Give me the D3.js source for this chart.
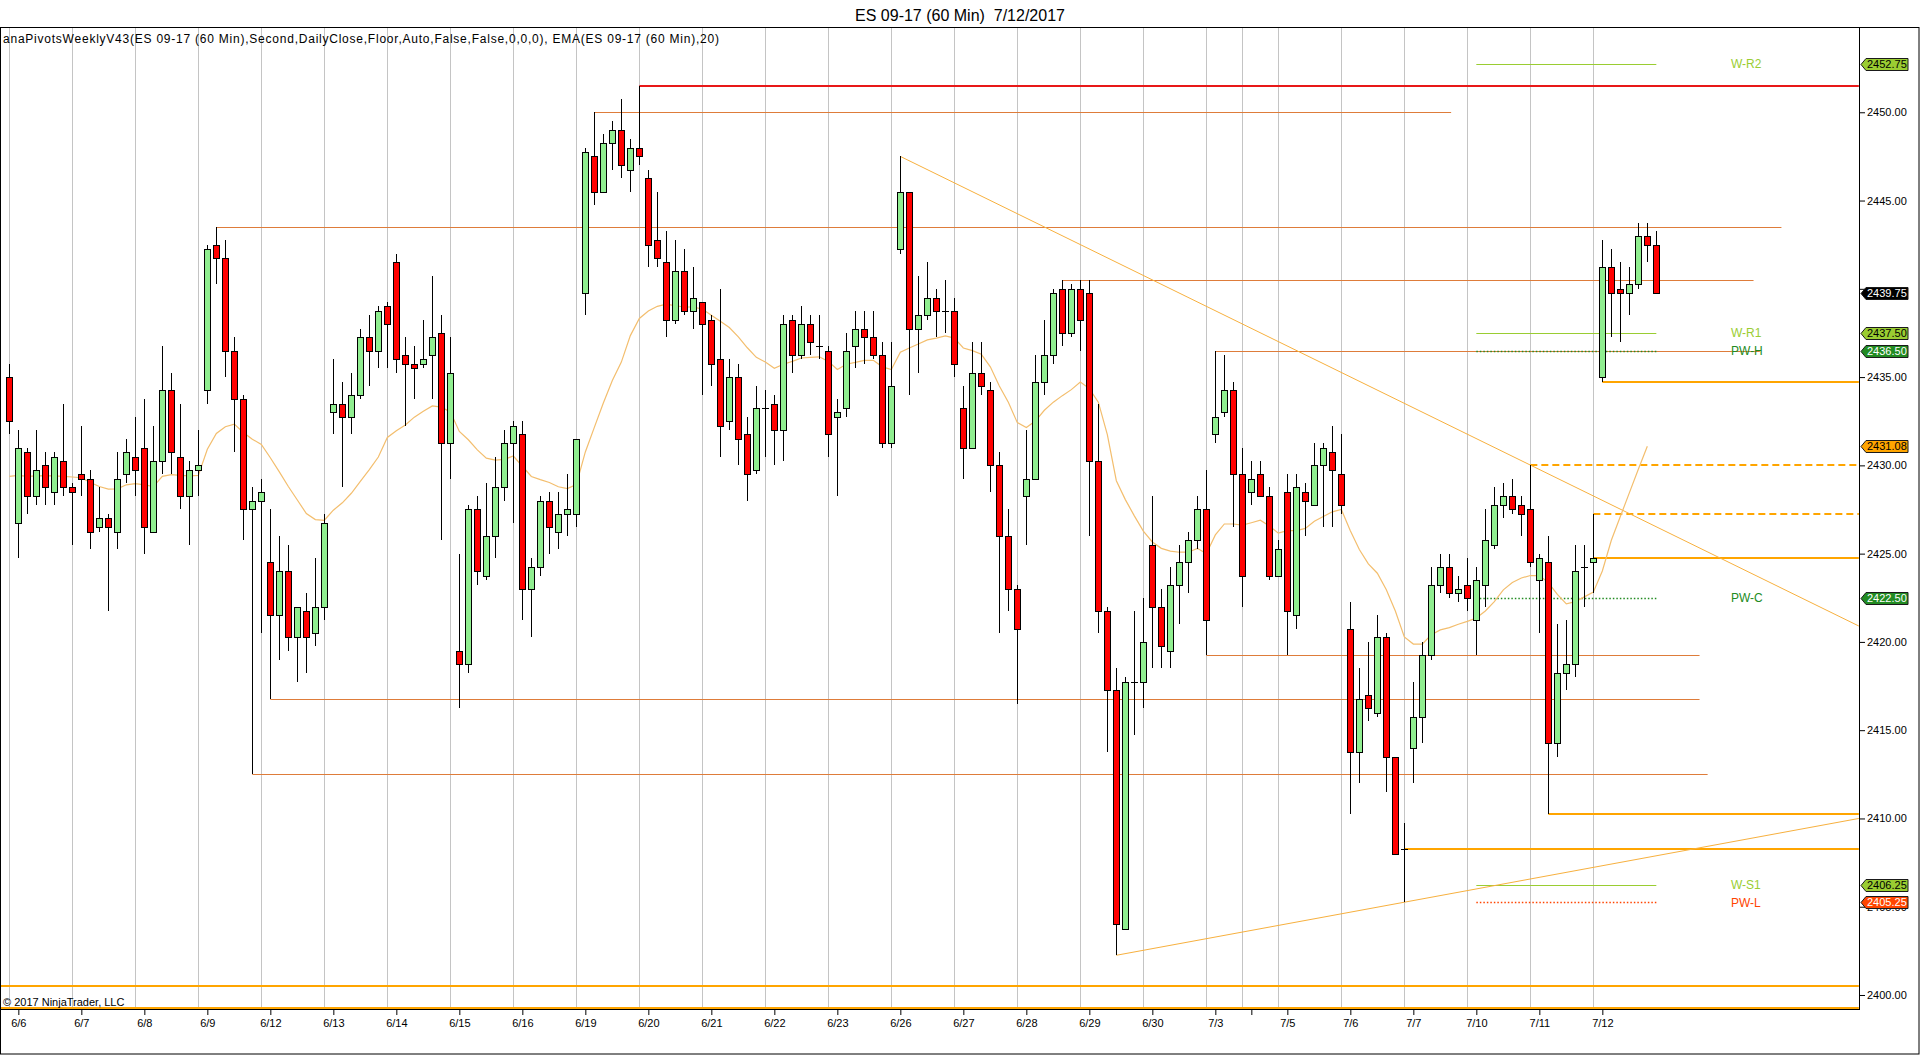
<!DOCTYPE html>
<html><head><meta charset="utf-8">
<script src="https://cdn.jsdelivr.net/npm/d3@7"></script>
<style>
html,body{margin:0;padding:0;background:#fff;overflow:hidden}
svg{display:block}
text{font-family:"Liberation Sans",Arial,sans-serif}
</style>
</head><body>
<svg id="chart" width="1920" height="1055"></svg>
<script>
// ---------------- DATA ----------------
const chartTitle = "ES 09-17 (60 Min)\u00A0 7/12/2017";
const indicatorText = "anaPivotsWeeklyV43(ES 09-17 (60 Min),Second,DailyClose,Floor,Auto,False,False,0,0,0), EMA(ES 09-17 (60 Min),20)";
const copyrightText = "\u00A9 2017 NinjaTrader, LLC";

const dayLabels   = ["6/6","6/7","6/8","6/9","6/12","6/13","6/14","6/15","6/16","6/19","6/20","6/21","6/22","6/23","6/26","6/27","6/28","6/29","6/30","7/3","","7/5","7/6","7/7","7/10","7/11","7/12"];
const dayFirstBar = [1,8,15,22,29,36,43,50,57,64,71,78,85,92,99,106,113,120,127,134,138,142,149,156,163,170,177];

const priceTicks = [2400,2405,2410,2415,2420,2425,2430,2435,2440,2445,2450];
const hiddenTickLabels = [2440]; // covered by the last-price marker in the original

const opens = [2435.0,2426.75,2430.75,2428.25,2430.0,2428.5,2430.25,2428.75,2429.5,2429.25,2426.5,2427.0,2426.25,2429.5,2430.5,2431.0,2426.25,2430.25,2434.25,2430.5,2428.25,2429.75,2434.25,2442.5,2441.75,2436.5,2433.75,2427.5,2428.0,2424.5,2421.5,2424.0,2420.25,2421.75,2420.5,2422.0,2433.0,2433.5,2432.75,2434.0,2437.25,2436.5,2439.0,2441.5,2436.25,2435.75,2435.75,2436.25,2437.5,2431.25,2419.5,2418.75,2427.5,2423.75,2426.0,2428.75,2431.25,2431.75,2423.0,2424.25,2428.0,2426.25,2427.25,2427.25,2439.75,2447.5,2445.5,2448.25,2449.0,2446.75,2448.0,2446.25,2442.75,2441.5,2438.25,2441.0,2438.75,2439.25,2438.25,2436.0,2432.5,2435.0,2431.75,2429.75,2433.25,2433.5,2432.0,2438.25,2436.25,2438.0,2436.75,2436.5,2432.75,2433.25,2436.75,2437.75,2437.25,2436.25,2431.25,2442.25,2445.5,2437.75,2438.5,2439.5,2438.75,2438.75,2433.25,2431.0,2435.25,2434.25,2430.0,2426.0,2423.0,2428.25,2429.25,2434.75,2436.25,2440.0,2437.5,2440.0,2439.75,2430.25,2421.75,2417.25,2403.75,2417.75,2417.75,2425.5,2422.0,2419.5,2423.25,2424.5,2425.75,2427.5,2431.75,2433.0,2434.25,2429.5,2428.5,2429.5,2428.25,2423.75,2428.5,2421.5,2428.5,2427.75,2430.0,2430.75,2429.5,2420.75,2413.75,2417.0,2416.0,2420.25,2413.5,2408.25,2414.0,2415.75,2419.25,2423.25,2424.25,2422.75,2423.25,2421.25,2423.25,2425.5,2427.75,2428.25,2427.75,2427.5,2423.5,2424.5,2414.25,2418.25,2418.75,2424.25,2424.5,2435.0,2441.25,2440.0,2439.75,2440.25,2443.0,2442.5];
const highs = [2435.75,2432.0,2431.0,2432.0,2430.75,2430.75,2433.5,2429.0,2432.25,2429.75,2428.75,2427.25,2430.75,2431.5,2432.75,2433.75,2432.25,2436.75,2435.25,2433.5,2430.25,2432.0,2442.5,2443.5,2442.75,2437.25,2434.0,2428.75,2429.25,2427.5,2426.0,2425.5,2422.0,2422.75,2424.75,2427.25,2436.0,2434.75,2435.25,2437.75,2438.5,2439.0,2439.25,2442.0,2437.25,2436.75,2438.25,2440.75,2438.5,2437.25,2425.0,2427.75,2428.25,2429.0,2430.5,2432.0,2432.5,2432.5,2424.75,2428.25,2428.5,2428.5,2429.5,2431.5,2448.0,2450.0,2448.75,2449.5,2450.75,2448.5,2451.5,2446.75,2445.5,2443.25,2442.75,2442.25,2441.25,2439.25,2438.5,2440.0,2436.0,2435.75,2432.75,2434.5,2434.25,2434.0,2438.5,2438.5,2439.0,2438.5,2438.5,2436.75,2433.75,2437.5,2438.75,2438.75,2438.75,2437.0,2437.0,2447.5,2445.5,2440.75,2441.5,2440.0,2440.5,2439.5,2434.5,2437.0,2437.0,2434.75,2430.75,2427.5,2423.25,2432.0,2436.25,2438.25,2440.0,2440.5,2440.25,2440.5,2440.5,2433.5,2422.0,2418.5,2418.0,2421.75,2422.5,2428.25,2423.0,2424.25,2425.5,2426.25,2428.25,2429.75,2436.5,2436.25,2434.75,2431.0,2430.25,2430.25,2428.75,2425.75,2429.5,2429.5,2429.0,2431.25,2431.25,2432.25,2431.75,2422.25,2418.5,2420.0,2421.5,2420.5,2413.5,2409.75,2417.75,2420.0,2424.25,2425.0,2425.0,2423.75,2424.75,2424.25,2427.5,2428.75,2429.0,2429.25,2428.25,2430.0,2425.0,2426.0,2421.0,2421.25,2425.5,2425.5,2427.25,2442.75,2442.25,2441.5,2441.25,2443.75,2443.75,2443.25];
const lows = [2431.75,2424.75,2427.25,2427.75,2427.75,2427.75,2428.25,2425.5,2428.25,2425.25,2426.25,2421.75,2425.25,2429.0,2428.25,2425.0,2426.25,2429.5,2429.5,2427.5,2425.5,2428.25,2433.5,2440.25,2435.0,2430.75,2425.75,2412.5,2420.5,2416.75,2419.0,2419.5,2417.75,2418.25,2419.75,2421.25,2431.75,2428.75,2431.75,2433.75,2434.5,2435.5,2435.5,2435.25,2432.25,2433.75,2435.5,2433.75,2425.75,2429.25,2416.25,2418.25,2423.25,2423.5,2424.75,2428.0,2426.75,2421.25,2420.25,2423.75,2425.0,2425.25,2426.0,2426.5,2438.5,2444.75,2445.5,2446.75,2446.25,2445.5,2447.0,2441.25,2441.25,2437.25,2438.0,2438.5,2437.75,2434.0,2434.5,2430.5,2432.0,2430.0,2428.0,2429.5,2430.5,2430.0,2430.25,2435.25,2436.0,2436.25,2436.0,2430.5,2428.25,2432.75,2435.5,2435.75,2436.0,2431.0,2431.0,2442.0,2434.0,2435.25,2438.25,2437.25,2437.5,2435.0,2429.25,2431.0,2434.0,2428.5,2420.5,2421.75,2416.5,2425.5,2429.25,2434.0,2435.75,2436.75,2437.25,2436.5,2426.0,2420.5,2413.75,2402.25,2403.75,2414.75,2416.25,2418.5,2418.5,2418.5,2421.0,2422.75,2425.25,2419.25,2431.25,2432.75,2426.5,2422.0,2427.75,2428.25,2423.5,2423.75,2419.25,2420.75,2426.0,2427.75,2426.5,2426.5,2427.25,2410.25,2412.0,2415.5,2415.75,2411.5,2408.0,2405.25,2412.0,2414.25,2419.0,2422.75,2422.5,2422.25,2421.75,2419.25,2422.0,2425.25,2427.0,2427.25,2426.0,2424.25,2420.5,2410.25,2413.5,2417.25,2418.0,2422.0,2422.75,2434.75,2437.25,2437.0,2438.5,2440.0,2441.5,2439.75];
const closes = [2432.5,2431.0,2428.25,2429.75,2428.75,2430.5,2428.75,2428.5,2429.25,2426.25,2427.0,2426.5,2429.25,2430.75,2429.75,2426.5,2430.25,2434.25,2430.75,2428.25,2429.75,2430.0,2442.25,2441.75,2436.5,2433.75,2427.5,2428.0,2428.5,2421.5,2424.0,2420.25,2422.0,2420.25,2422.0,2426.75,2433.5,2432.75,2434.0,2437.25,2436.5,2438.75,2438.0,2436.0,2435.75,2435.5,2436.0,2437.25,2431.25,2435.25,2418.75,2427.5,2424.0,2426.0,2428.75,2431.25,2432.25,2423.0,2424.25,2428.0,2426.5,2427.25,2427.5,2431.5,2447.75,2445.5,2448.25,2449.0,2447.0,2448.0,2447.5,2442.5,2441.75,2438.25,2441.0,2438.75,2439.5,2438.0,2435.75,2432.25,2435.0,2431.5,2429.5,2433.25,2433.25,2432.0,2438.0,2436.25,2438.0,2437.0,2436.75,2431.75,2433.0,2436.5,2437.75,2437.25,2436.25,2431.25,2434.5,2445.5,2437.75,2438.5,2439.5,2438.75,2438.75,2435.75,2431.0,2435.25,2434.5,2430.0,2426.0,2423.0,2420.75,2429.25,2434.75,2436.25,2439.75,2437.5,2440.0,2438.25,2430.25,2421.75,2417.25,2404.0,2417.75,2417.75,2420.0,2422.0,2419.75,2423.25,2424.5,2425.75,2427.5,2421.25,2432.75,2434.25,2429.5,2423.75,2429.25,2428.25,2423.75,2425.25,2421.75,2428.75,2428.0,2430.0,2431.0,2429.75,2427.75,2413.75,2416.75,2416.25,2420.25,2413.5,2408.0,2408.25,2415.75,2419.25,2423.25,2424.25,2422.75,2423.0,2422.5,2423.5,2425.75,2427.75,2428.25,2427.5,2427.25,2424.5,2424.75,2414.25,2418.25,2418.75,2424.0,2424.25,2424.75,2441.25,2439.75,2439.75,2440.25,2443.0,2442.5,2439.75];

// EMA(20), one value per bar (bar index = position in list)
const emaValues = [2429.38,2429.43,2429.38,2429.40,2429.42,2429.40,2429.38,2429.34,2429.30,2429.03,2428.80,2428.65,2428.67,2428.90,2428.96,2428.90,2428.80,2429.38,2429.47,2429.43,2429.40,2429.43,2430.91,2431.81,2432.19,2432.34,2431.86,2431.48,2431.19,2430.43,2429.63,2428.80,2428.04,2427.27,2426.93,2426.89,2427.46,2427.88,2428.42,2429.09,2429.76,2430.47,2431.58,2431.96,2432.29,2432.73,2433.07,2433.37,2433.30,2433.03,2431.92,2431.45,2430.88,2430.41,2430.30,2430.34,2430.53,2429.95,2429.37,2429.19,2429.03,2428.79,2428.68,2428.91,2430.76,2432.15,2433.53,2434.81,2435.85,2437.35,2438.32,2438.74,2439.01,2439.13,2439.04,2438.97,2438.97,2438.85,2438.50,2438.16,2437.81,2437.28,2436.66,2436.12,2435.85,2435.50,2435.73,2435.89,2436.08,2436.12,2436.15,2435.89,2435.43,2435.73,2435.83,2435.95,2435.95,2435.58,2435.43,2436.41,2436.65,2436.87,2437.11,2437.21,2437.33,2437.21,2436.65,2436.50,2436.29,2435.58,2434.50,2433.58,2432.42,2432.14,2432.51,2433.12,2433.58,2433.95,2434.29,2434.72,2434.35,2433.58,2431.74,2429.13,2428.06,2427.14,2426.28,2425.66,2425.30,2425.14,2425.08,2425.08,2425.30,2425.00,2426.06,2426.68,2426.68,2426.62,2426.75,2426.89,2426.57,2426.16,2426.30,2426.30,2426.43,2426.83,2427.10,2427.37,2427.50,2426.30,2425.23,2424.42,2423.89,2422.95,2421.75,2420.28,2419.88,2419.88,2420.41,2420.68,2420.81,2421.00,2421.16,2421.35,2421.75,2422.28,2422.95,2423.36,2423.62,2423.76,2423.76,2423.36,2422.69,2422.15,2422.28,2422.55,2422.82,2424.02,2425.76,2427.10,2428.44,2429.78,2431.08];

// horizontal levels drawn on the chart: price, first bar, last bar, kind
const levelPrice = [2451.5, 2450.0, 2443.5, 2440.5, 2436.5, 2419.25, 2416.75, 2412.5, 2434.75, 2430.0, 2427.25, 2424.75, 2410.25, 2408.25, 2400.5, 2399.25];
const levelFrom  = [70, 65, 23, 117, 134, 133, 29, 27, 177, 169, 176, 176, 171, 155, -1.04, -1.04];
const levelTo    = [205.5, 160.2, 196.9, 193.8, 194.5, 187.8, 187.8, 188.7, 205.5, 205.5, 205.5, 205.5, 205.5, 205.5, 205.5, 205.5];
const levelKind  = ["red","swing","swing","swing","swing","swing","swing","swing","thick","dash","dash","thick","thick","thick","thick","thick"];

// trend lines: [bar, price] -> [bar, price]
const trendFromBar = [99, 123];
const trendFromPrice = [2447.5, 2402.25];
const trendToBar = [205.5, 205.5];
const trendToPrice = [2420.9, 2410.0];

// weekly pivots
const pivotNames  = ["W-R2","W-R1","PW-H","PW-C","W-S1","PW-L"];
const pivotPrices = [2452.75, 2437.5, 2436.5, 2422.5, 2406.25, 2405.25];
const pivotKind   = ["wr","wr","pw","pw","wr","pwl"];
const pivotFromBar = 163, pivotToBar = 183;

// price markers on the right axis
const markerPrices = [2452.75, 2439.75, 2437.50, 2436.50, 2431.08, 2422.50, 2406.25, 2405.25];
const markerKind   = ["wr","last","wr","pw","ema","pw","wr","pwl"];

// ---------------- STYLES ----------------
const markerStyle = {
  wr:  {fill:"#9acd32", text:"#000"},
  last:{fill:"#000000", text:"#fff"},
  pw:  {fill:"#228b22", text:"#fff"},
  ema: {fill:"#ffa500", text:"#000"},
  pwl: {fill:"#ff4500", text:"#fff"}
};
const pivotStyle = {
  wr:  {stroke:"#9acd32", dash:null, w:1, text:"#9acd32"},
  pw:  {stroke:"#228b22", dash:"1.5,2", w:1.5, text:"#228b22"},
  pwl: {stroke:"#ff4500", dash:"1.5,2", w:1.5, text:"#ff4500"}
};
const levelStyle = {
  red:  {stroke:"#e81818", w:2, dash:null},
  swing:{stroke:"#de7c3a", w:1, dash:null},
  thick:{stroke:"#ffa500", w:2, dash:null},
  dash: {stroke:"#ffa500", w:2, dash:"7,4"}
};

// ---------------- LAYOUT ----------------
const W = 1920, H = 1055;
const plotL = 0, plotR = 1859, plotT = 27, plotB = 1009;

const svg = d3.select("#chart");
svg.append("rect").attr("width", W).attr("height", H).attr("fill", "#fff");

const x = d3.scaleLinear().domain([-1.037, 205.518]).range([plotL, plotR]);
const y = d3.scaleLinear().domain([2399.207, 2454.83]).range([plotB, plotT]);
const crisp = v => Math.round(v) + 0.5;

const clipId = "plotclip";
svg.append("clipPath").attr("id", clipId).append("rect")
  .attr("x", plotL).attr("y", plotT).attr("width", plotR - plotL).attr("height", plotB - plotT);

const plot = svg.append("g").attr("clip-path", `url(#${clipId})`);

// vertical grid lines (last bar of each session)
const gridBars = dayFirstBar.map(b => b - 1);
plot.append("g").selectAll("line").data(gridBars).join("line")
  .attr("x1", d => crisp(x(d))).attr("x2", d => crisp(x(d)))
  .attr("y1", plotT).attr("y2", plotB)
  .attr("stroke", "#c4c4c4").attr("stroke-width", 1);

// horizontal levels
const levels = levelPrice.map((p, i) => ({p, a: levelFrom[i], b: levelTo[i], k: levelKind[i]}));
plot.append("g").selectAll("line").data(levels).join("line")
  .attr("x1", d => x(d.a)).attr("x2", d => x(d.b))
  .attr("y1", d => levelStyle[d.k].w === 1 ? crisp(y(d.p)) : Math.round(y(d.p)))
  .attr("y2", d => levelStyle[d.k].w === 1 ? crisp(y(d.p)) : Math.round(y(d.p)))
  .attr("stroke", d => levelStyle[d.k].stroke)
  .attr("stroke-width", d => levelStyle[d.k].w)
  .attr("stroke-dasharray", d => levelStyle[d.k].dash);

// pivots
const pivots = pivotNames.map((n, i) => ({n, p: pivotPrices[i], k: pivotKind[i]}));
plot.append("g").selectAll("line").data(pivots).join("line")
  .attr("x1", x(pivotFromBar)).attr("x2", x(pivotToBar))
  .attr("y1", d => crisp(y(d.p))).attr("y2", d => crisp(y(d.p)))
  .attr("stroke", d => pivotStyle[d.k].stroke)
  .attr("stroke-width", d => pivotStyle[d.k].w)
  .attr("stroke-dasharray", d => pivotStyle[d.k].dash);
plot.append("g").selectAll("text").data(pivots).join("text")
  .attr("x", 1731).attr("y", d => y(d.p)).attr("dy", "0.35em")
  .attr("font-size", 12).attr("fill", d => pivotStyle[d.k].text)
  .text(d => d.n);

// trend lines
const trends = trendFromBar.map((b, i) => [[b, trendFromPrice[i]], [trendToBar[i], trendToPrice[i]]]);
plot.append("g").selectAll("line").data(trends).join("line")
  .attr("x1", d => x(d[0][0])).attr("y1", d => y(d[0][1]))
  .attr("x2", d => x(d[1][0])).attr("y2", d => y(d[1][1]))
  .attr("stroke", "#f7b03e").attr("stroke-width", 1);

// EMA
const emaLine = d3.line().x((d, i) => x(i)).y(d => y(d));
plot.append("path").datum(emaValues)
  .attr("d", emaLine).attr("fill", "none")
  .attr("stroke", "#f3be6e").attr("stroke-width", 1.2);

// candles
const bars = opens.map((o, i) => ({i, o, h: highs[i], l: lows[i], c: closes[i]}));
const cg = plot.append("g");
const cand = cg.selectAll("g").data(bars).join("g");
cand.append("line")
  .attr("x1", d => Math.round(x(d.i)) + 0.5).attr("x2", d => Math.round(x(d.i)) + 0.5)
  .attr("y1", d => Math.round(y(d.h))).attr("y2", d => Math.round(y(d.l)))
  .attr("stroke", "#000").attr("stroke-width", 1);
cand.filter(d => d.o !== d.c).append("rect")
  .attr("x", d => Math.round(x(d.i)) - 2.5)
  .attr("width", 6)
  .attr("y", d => Math.round(y(Math.max(d.o, d.c))) + 0.5)
  .attr("height", d => Math.max(1, Math.round(y(Math.min(d.o, d.c))) - Math.round(y(Math.max(d.o, d.c)))))
  .attr("fill", d => d.c > d.o ? "#90ee90" : "#ff0000")
  .attr("stroke", "#000").attr("stroke-width", 1);
cand.filter(d => d.o === d.c).append("line")
  .attr("x1", d => Math.round(x(d.i)) - 3).attr("x2", d => Math.round(x(d.i)) + 4)
  .attr("y1", d => Math.round(y(d.c)) + 0.5).attr("y2", d => Math.round(y(d.c)) + 0.5)
  .attr("stroke", "#000").attr("stroke-width", 1);

// ---------------- FRAME & AXES ----------------
svg.append("rect").attr("x", 0.5).attr("y", plotT + 0.5).attr("width", W - 1.5).attr("height", H - plotT - 1.5)
  .attr("fill", "none").attr("stroke", "#000").attr("stroke-width", 1);
svg.append("line").attr("x1", plotR + 0.5).attr("x2", plotR + 0.5).attr("y1", plotT).attr("y2", plotB + 1)
  .attr("stroke", "#000");
svg.append("line").attr("x1", 0).attr("x2", plotR + 1).attr("y1", plotB + 0.5).attr("y2", plotB + 0.5)
  .attr("stroke", "#000");

// x axis
const xAxisG = svg.append("g").attr("transform", `translate(0,${plotB + 1})`);
const xAxis = d3.axisBottom(x).tickValues(dayFirstBar)
  .tickFormat((d, i) => dayLabels[i]).tickSize(5).tickSizeOuter(0);
xAxisG.call(xAxis);
xAxisG.select(".domain").remove();
xAxisG.selectAll(".tick line").attr("stroke", "#000");
xAxisG.selectAll(".tick text").attr("font-family", "Liberation Sans, Arial, sans-serif")
  .attr("font-size", 11).attr("fill", "#000").attr("y", 9);

// y axis
const yAxisG = svg.append("g").attr("transform", `translate(${plotR + 1},0)`);
const yAxis = d3.axisRight(y).tickValues(priceTicks)
  .tickFormat(d => hiddenTickLabels.includes(d) ? "" : d3.format(".2f")(d))
  .tickSize(5).tickSizeOuter(0);
yAxisG.call(yAxis);
yAxisG.select(".domain").remove();
yAxisG.selectAll(".tick line").attr("stroke", "#000");
yAxisG.selectAll(".tick text").attr("font-family", "Liberation Sans, Arial, sans-serif")
  .attr("font-size", 11).attr("fill", "#000").attr("x", 7);

// price markers
const markers = markerPrices.map((p, i) => ({p, k: markerKind[i]}));
const mg = svg.append("g").selectAll("g").data(markers).join("g")
  .attr("transform", d => `translate(0,${Math.round(y(d.p)) + 0.5})`);
mg.append("path")
  .attr("d", "M1861,0 L1866,-6 L1908,-6 L1908,6 L1866,6 Z")
  .attr("fill", d => markerStyle[d.k].fill).attr("stroke", "#1a1a1a").attr("stroke-width", 1);
mg.append("text").attr("x", 1867).attr("y", 0).attr("dy", "0.36em")
  .attr("font-size", 11).attr("fill", d => markerStyle[d.k].text)
  .text(d => d3.format(".2f")(d.p));

// texts
svg.append("text").attr("x", 960).attr("y", 15).attr("dy", "0.35em")
  .attr("text-anchor", "middle").attr("font-size", 16).attr("fill", "#000").text(chartTitle);
svg.append("text").attr("x", 3).attr("y", 39).attr("dy", "0.35em")
  .attr("font-size", 12).attr("fill", "#000")
  .attr("textLength", 716).attr("lengthAdjust", "spacing").text(indicatorText);
svg.append("text").attr("x", 3).attr("y", 1002).attr("dy", "0.35em")
  .attr("font-size", 11).attr("fill", "#000").text(copyrightText);
</script>
</body></html>
